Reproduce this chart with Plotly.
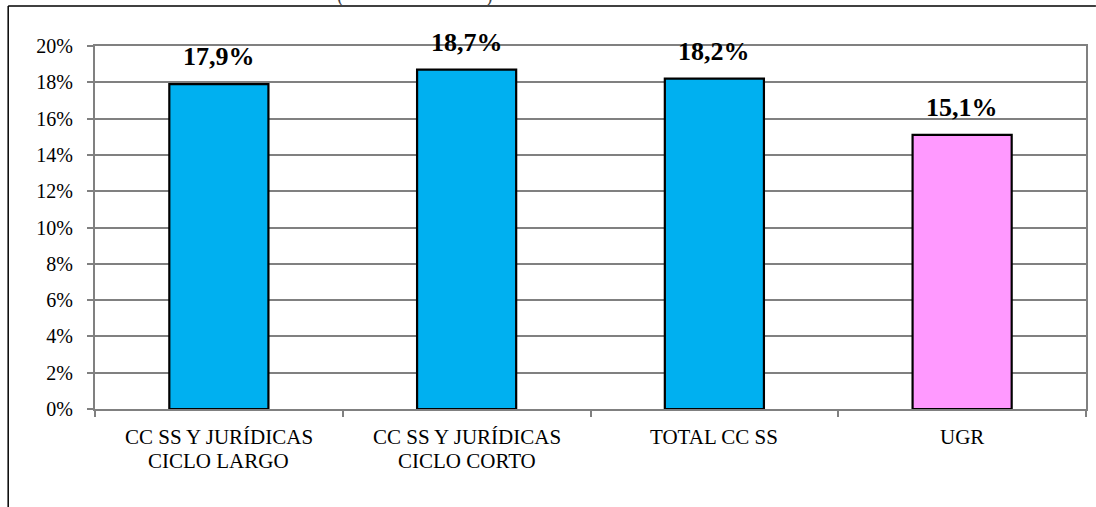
import plotly.graph_objects as go

# Category labels (two text lines each) and percentage values
cat_keys = ["CCSSJ_LARGO", "CCSSJ_CORTO", "TOTAL", "UGR"]
label_line1 = ["CC SS Y JURÍDICAS", "CC SS Y JURÍDICAS", "TOTAL CC SS", "UGR"]
label_line2 = ["CICLO LARGO", "CICLO CORTO", "", ""]
values = [17.9, 18.7, 18.2, 15.1]
value_labels = ["17,9%", "18,7%", "18,2%", "15,1%"]
bar_colors = ["#00B0F0", "#00B0F0", "#00B0F0", "#FF99FF"]
y_ticks = [0, 2, 4, 6, 8, 10, 12, 14, 16, 18, 20]
y_tick_text = [f"{t}%" for t in y_ticks]

SERIF = "Liberation Serif, Times New Roman, serif"

fig = go.Figure()
fig.add_trace(go.Bar(
    x=cat_keys,
    y=values,
    width=0.4,
    marker=dict(color=bar_colors, line=dict(color="black", width=2.2)),
    hoverinfo="skip",
))

# Value labels above each bar
for key, val, lab in zip(cat_keys, values, value_labels):
    fig.add_annotation(
        x=key, y=val, text=f"<b>{lab}</b>", showarrow=False,
        yanchor="bottom", yshift=11,
        font=dict(family=SERIF, size=26, color="black"),
    )

# Category labels below the axis, one annotation per text line
for key, l1, l2 in zip(cat_keys, label_line1, label_line2):
    fig.add_annotation(x=key, y=-0.0771, yref="paper", text=l1,
                       showarrow=False, yanchor="middle",
                       font=dict(family=SERIF, size=21, color="black"))
    if l2:
        fig.add_annotation(x=key, y=-0.1433, yref="paper", text=l2,
                           showarrow=False, yanchor="middle",
                           font=dict(family=SERIF, size=21, color="black"))

# Outer frame lines (top and left edges)
fig.add_shape(type="line", xref="paper", yref="paper",
              x0=-0.0876, x1=1.01, y0=1.110, y1=1.110,
              line=dict(color="black", width=1.5))
fig.add_shape(type="line", xref="paper", yref="paper",
              x0=-0.0876, x1=-0.0876, y0=1.110, y1=-0.30,
              line=dict(color="black", width=1.5))

# Title brackets partly above the page edge
fig.add_annotation(x=0.242, y=1.138, xref="paper", yref="paper",
                   text="(", showarrow=False, yanchor="middle",
                   font=dict(family=SERIF, size=20, color="#444"))
fig.add_annotation(x=0.398, y=1.138, xref="paper", yref="paper",
                   text=")", showarrow=False, yanchor="middle",
                   font=dict(family=SERIF, size=20, color="#444"))

fig.update_layout(
    width=1096, height=507,
    margin=dict(l=95, r=8, t=46, b=98),
    paper_bgcolor="white", plot_bgcolor="white",
    showlegend=False,
    font=dict(family=SERIF, size=20, color="black"),
)
fig.update_xaxes(
    showline=True, linecolor="#808080", linewidth=2, mirror=True,
    ticks="outside", tickson="boundaries", ticklen=6, tickcolor="#808080",
    tickwidth=1.5, showgrid=False, showticklabels=False,
)
fig.update_yaxes(
    range=[0, 20], tickvals=y_ticks, ticktext=y_tick_text,
    showline=True, linecolor="#808080", linewidth=2, mirror=True,
    ticks="outside", ticklen=6, tickcolor="#808080", tickwidth=1.5,
    showgrid=True, gridcolor="#808080", gridwidth=1.6,
    zeroline=False, ticklabelstandoff=10,
    tickfont=dict(family=SERIF, size=20, color="black"),
)

fig.write_html("out.html")
